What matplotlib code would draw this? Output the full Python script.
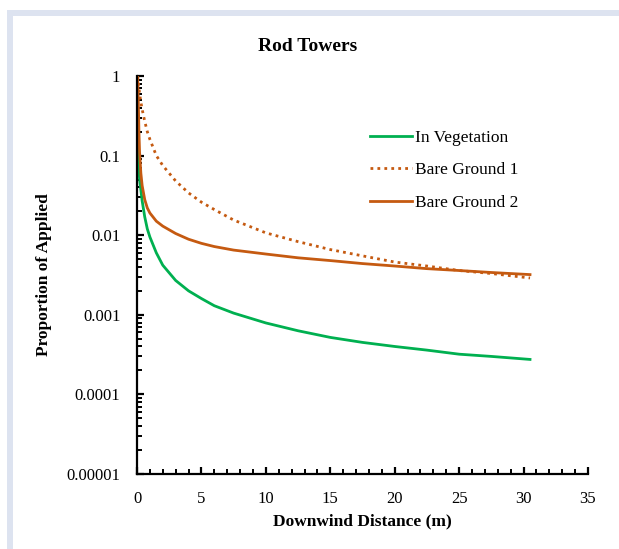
import matplotlib
matplotlib.use("Agg")
import matplotlib.pyplot as plt
from matplotlib.patches import Rectangle
from matplotlib.ticker import LogLocator, MultipleLocator, FixedLocator, NullFormatter

plt.rcParams['font.family'] = ['Liberation Serif', 'DejaVu Serif']

# Data
x_veg = [0.02, 0.1, 0.2, 0.3, 0.4, 0.6, 0.8, 1.0, 1.5, 2, 3, 4, 5, 6, 7.5, 10,
         12.5, 15, 17.5, 20, 22.5, 25, 27.5, 30.5]
y_veg = [0.6, 0.1, 0.05, 0.037, 0.027, 0.017, 0.012, 0.0095, 0.006, 0.0042, 0.0027,
         0.002, 0.0016, 0.0013, 0.00105, 0.00079, 0.00063, 0.00052, 0.00045, 0.0004,
         0.00036, 0.00032, 0.0003, 0.000275]

x_bg1 = [0.05, 0.1, 0.2, 0.3, 0.4, 0.6, 0.8, 1.0, 1.5, 2, 3, 4, 5, 6, 7.5, 10,
         12.5, 15, 17.5, 20, 22.5, 25, 27.5, 30.5]
y_bg1 = [1.0, 0.85, 0.6, 0.47, 0.38, 0.27, 0.2, 0.16, 0.1, 0.075, 0.048, 0.034, 0.026,
         0.021, 0.0155, 0.0107, 0.0083, 0.0066, 0.0055, 0.0046, 0.0041, 0.0036,
         0.0033, 0.0029]

x_bg2 = [0.05, 0.1, 0.15, 0.2, 0.3, 0.4, 0.6, 0.8, 1.0, 1.5, 2, 3, 4, 5, 6, 7.5, 10,
         12.5, 15, 17.5, 20, 22.5, 25, 27.5, 30.5]
y_bg2 = [1.0, 0.5, 0.2, 0.11, 0.06, 0.042, 0.028, 0.022, 0.019, 0.015, 0.013, 0.0105,
         0.0089, 0.0079, 0.0072, 0.0065, 0.0058, 0.0052, 0.0048, 0.0044, 0.0041,
         0.0038, 0.0036, 0.0034, 0.0032]

series_names = ["In Vegetation", "Bare Ground 1", "Bare Ground 2"]
y_tick_vals = [1e-5, 1e-4, 1e-3, 1e-2, 1e-1, 1]
y_tick_labels = ["0.00001", "0.0001", "0.001", "0.01", "0.1", "1"]
x_tick_vals = [0, 5, 10, 15, 20, 25, 30, 35]

W, H = 619, 549
fig = plt.figure(figsize=(W / 100, H / 100), dpi=100)

# light frame (top and left)
border = '#DDE3F0'
fig.patches.append(Rectangle((7 / W, 1 - 16 / H), 1 - 7 / W, 6 / H, transform=fig.transFigure,
                             facecolor=border, edgecolor='none', zorder=0))
fig.patches.append(Rectangle((7 / W, 0), 6 / W, 1 - 10 / H, transform=fig.transFigure,
                             facecolor=border, edgecolor='none', zorder=0))

left, right = 137 / W, 588 / W
bottom, top = 1 - 474 / H, 1 - 76 / H
ax = fig.add_axes([left, bottom, right - left, top - bottom])

green = '#00B050'
orange = '#C55A11'
ax.plot(x_veg, y_veg, color=green, lw=2.0, label=series_names[0], zorder=3)
ax.plot(x_bg1, y_bg1, color=orange, lw=2.0, linestyle=(0, (1, 1.5)),
        label=series_names[1], zorder=3)
ax.plot(x_bg2, y_bg2, color=orange, lw=2.0, label=series_names[2], zorder=3)

ax.set_yscale('log')
ax.set_xlim(0, 35)
ax.set_ylim(1e-5, 1)

ax.yaxis.set_major_locator(FixedLocator(y_tick_vals))
ax.set_yticklabels(y_tick_labels)
ax.yaxis.set_minor_locator(LogLocator(base=10, subs=range(2, 10)))
ax.yaxis.set_minor_formatter(NullFormatter())
ax.xaxis.set_major_locator(FixedLocator(x_tick_vals))
ax.set_xticklabels([str(v) for v in x_tick_vals])
ax.xaxis.set_minor_locator(MultipleLocator(1))

for s in ['top', 'right']:
    ax.spines[s].set_visible(False)
for s in ['left', 'bottom']:
    ax.spines[s].set_linewidth(1.6)
    ax.spines[s].set_color('black')
    ax.spines[s].set_zorder(4)

ax.tick_params(which='major', direction='in', length=5, width=1.6, labelsize=12,
               pad=12, colors='black')
ax.tick_params(which='minor', direction='in', length=3.5, width=1.4, colors='black')
ax.tick_params(axis='y', which='major', pad=12)

ax.set_xlabel("Downwind Distance (m)", fontsize=12.5, fontweight='bold', labelpad=5)
ax.set_ylabel("Proportion of Applied", fontsize=12.5, fontweight='bold')
ax.yaxis.set_label_coords((52 - 137) / 451, 0.5)

fig.text(0.497, 1 - 47 / H, "Rod Towers", ha='center', va='center',
         fontsize=14, fontweight='bold')

leg = fig.legend(loc='upper left', bbox_to_anchor=(370 / W, 1 - 130 / H),
                 frameon=False, fontsize=12.5, handlelength=2.4, handletextpad=0.2,
                 labelspacing=0.93, borderpad=0, borderaxespad=0)

fig.savefig("out.png", dpi=100)
